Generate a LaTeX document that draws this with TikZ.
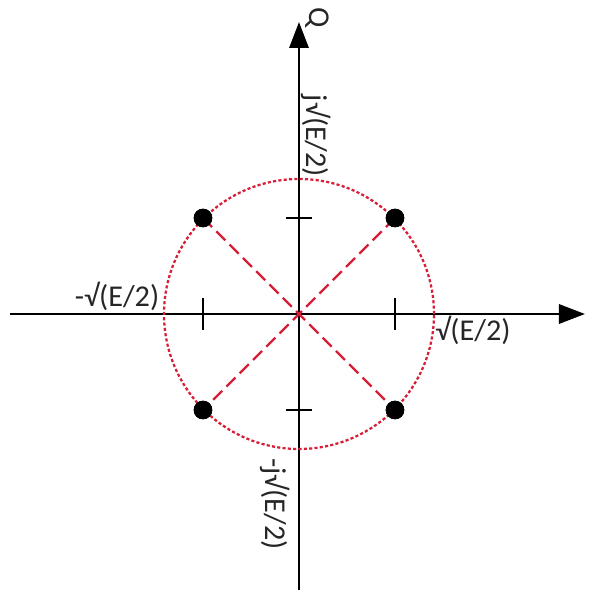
\documentclass[tikz,border=0pt]{standalone}
\usepackage{fontspec}
\setmainfont{Carlito}
\usetikzlibrary{arrows.meta}
\definecolor{crimson}{RGB}{215,30,55}

\begin{document}
\begin{tikzpicture}[
        axis/.style={line width=1.8pt, -{Triangle[length=0.65cm, width=0.48cm]}},
        tick/.style={line width=1.8pt},
        symbol/.style={circle, fill=black, draw=black, inner sep=0pt, minimum size=0.45cm},
        decision/.style={draw=crimson, line width=1.6pt, dash pattern=on 2.2pt off 1.6pt},
        link/.style={draw=crimson, line width=1.7pt, dash pattern=on 0.32cm off 0.15cm},
        lbl/.style={font=\fontsize{21.5}{25}\selectfont, text=black!85, inner sep=0pt}
    ]
        \useasboundingbox (-7.475,-7.275) rectangle (7.725,7.85);

        % Axes
        \coordinate (O) at (0,0);
        \coordinate (I-start) at (-7.225,0);
        \coordinate (I-end) at (7.15,0);
        \coordinate (Q-start) at (0,-6.9);
        \coordinate (Q-end) at (0,7.3);
        \draw[axis] (I-start) -- (I-end);
        \draw[axis] (Q-start) -- (Q-end);

        % Ticks
        \foreach \s in {-1,1}
            \draw[tick] (2.4*\s,-0.4) -- (2.4*\s,0.4);
        \foreach \s in {-1,1}
            \draw[tick] (-0.325,2.4*\s) -- (0.325,2.4*\s);

        % Decision circle
        \draw[decision] (O) circle (3.375cm);

        % Constellation points
        \node[symbol] (P-1) at (2.4,2.4) {};
        \node[symbol] (P-2) at (-2.4,2.4) {};
        \node[symbol] (P-3) at (-2.4,-2.4) {};
        \node[symbol] (P-4) at (2.4,-2.4) {};

        % Diagonals
        \draw[link] (P-1.center) -- (P-3.center);
        \draw[link] (P-2.center) -- (P-4.center);
        \foreach \i in {1,...,4}
            \node[symbol] at (P-\i) {};

        % Labels
        \node[lbl, rotate=-90] (q) at (0.45,7.4) {Q};
        \node[lbl, rotate=-90] (q-pos) at (0.43,4.45) {j√(E/2)};
        \node[lbl, rotate=-90] (q-neg) at (-0.6,-4.75) {-j√(E/2)};
        \node[lbl] (i-neg) at (-4.55,0.43) {-√(E/2)};
        \node[lbl] (i-pos) at (4.35,-0.42) {√(E/2)};
    \end{tikzpicture}
\end{document}
